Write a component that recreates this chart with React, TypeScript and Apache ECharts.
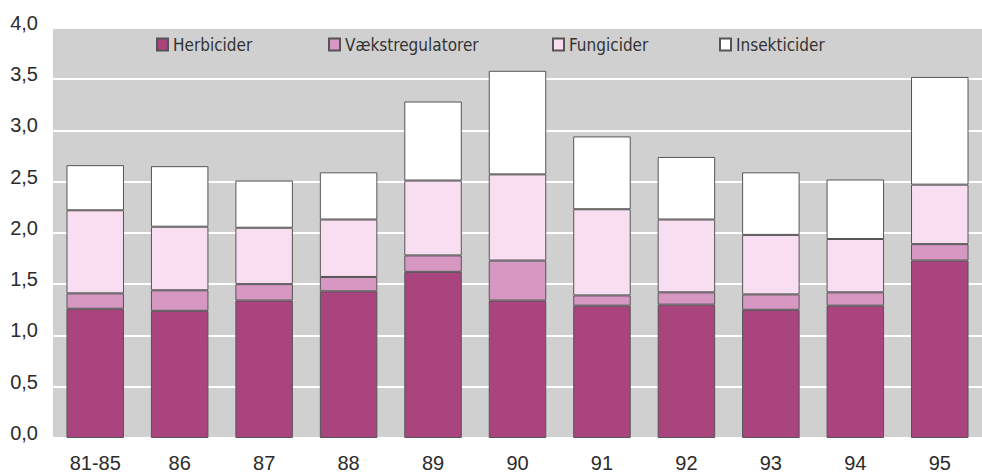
import React, { useEffect, useRef } from "react";
import * as echarts from "echarts";

const categories = ["81-85", "86", "87", "88", "89", "90", "91", "92", "93", "94", "95"];
const herbicider = [1.26, 1.24, 1.34, 1.43, 1.62, 1.34, 1.29, 1.30, 1.25, 1.29, 1.73];
const vaekstregulatorer = [0.15, 0.20, 0.16, 0.14, 0.16, 0.39, 0.10, 0.12, 0.15, 0.13, 0.16];
const fungicider = [0.81, 0.62, 0.55, 0.56, 0.73, 0.84, 0.84, 0.71, 0.58, 0.52, 0.58];
const insekticider = [0.44, 0.59, 0.46, 0.46, 0.77, 1.01, 0.71, 0.61, 0.61, 0.58, 1.05];
const seriesNames = ["Herbicider", "Vækstregulatorer", "Fungicider", "Insekticider"];
const seriesColors = ["#a9447f", "#d797c3", "#f8def0", "#ffffff"];
const legendLefts = [156, 328, 552, 719];

const App: React.FC = () => {
  const ref = useRef<HTMLDivElement>(null);
  useEffect(() => {
    if (!ref.current) return;
    const chart = echarts.init(ref.current, null, { renderer: "svg" });
    const values = [herbicider, vaekstregulatorer, fungicider, insekticider];
    const labelFont = "'Liberation Sans', Arial, sans-serif";
    const legendFont = "'DejaVu Sans Condensed', 'DejaVu Sans', sans-serif";
    chart.setOption({
      animation: false,
      grid: {
        left: 53,
        right: -11.5,
        top: 27.7,
        bottom: 34.3,
        show: true,
        backgroundColor: "#d0d0d0",
        borderWidth: 0,
      },
      legend: seriesNames.map((name, i) => ({
        data: [name],
        left: legendLefts[i],
        top: 36,
        padding: 0,
        itemWidth: 11,
        itemHeight: 12,
        itemGap: 0,
        selectedMode: false,
        icon: "rect",
        textStyle: {
          fontFamily: legendFont,
          fontSize: 17,
          color: "#333333",
          padding: [0, 0, 6, 0],
        },
      })),
      xAxis: {
        type: "category",
        data: categories,
        axisLine: { show: false },
        axisTick: { show: false },
        axisLabel: {
          color: "#2b2b2b",
          fontFamily: labelFont,
          fontSize: 20,
          margin: 15,
        },
      },
      yAxis: {
        type: "value",
        min: 0,
        max: 4,
        interval: 0.5,
        axisLine: { show: false },
        axisTick: { show: false },
        axisLabel: {
          color: "#2b2b2b",
          fontFamily: labelFont,
          fontSize: 20,
          margin: 15,
          verticalAlign: "bottom",
          lineHeight: 10,
          formatter: (v: number) => v.toFixed(1).replace(".", ","),
        },
        splitLine: { show: true, lineStyle: { color: "#ffffff", width: 2 } },
      },
      series: seriesNames.map((name, i) => ({
        name,
        type: "bar",
        stack: "total",
        barWidth: 57.5,
        data: values[i],
        itemStyle: {
          color: seriesColors[i],
          borderColor: "#555555",
          borderWidth: 1,
        },
      })),
    });
    return () => chart.dispose();
  }, []);
  return (
    <div
      ref={ref}
      style={{ position: "fixed", left: 0, top: 0, width: 982, height: 473, background: "#ffffff" }}
    />
  );
};

export default App;
